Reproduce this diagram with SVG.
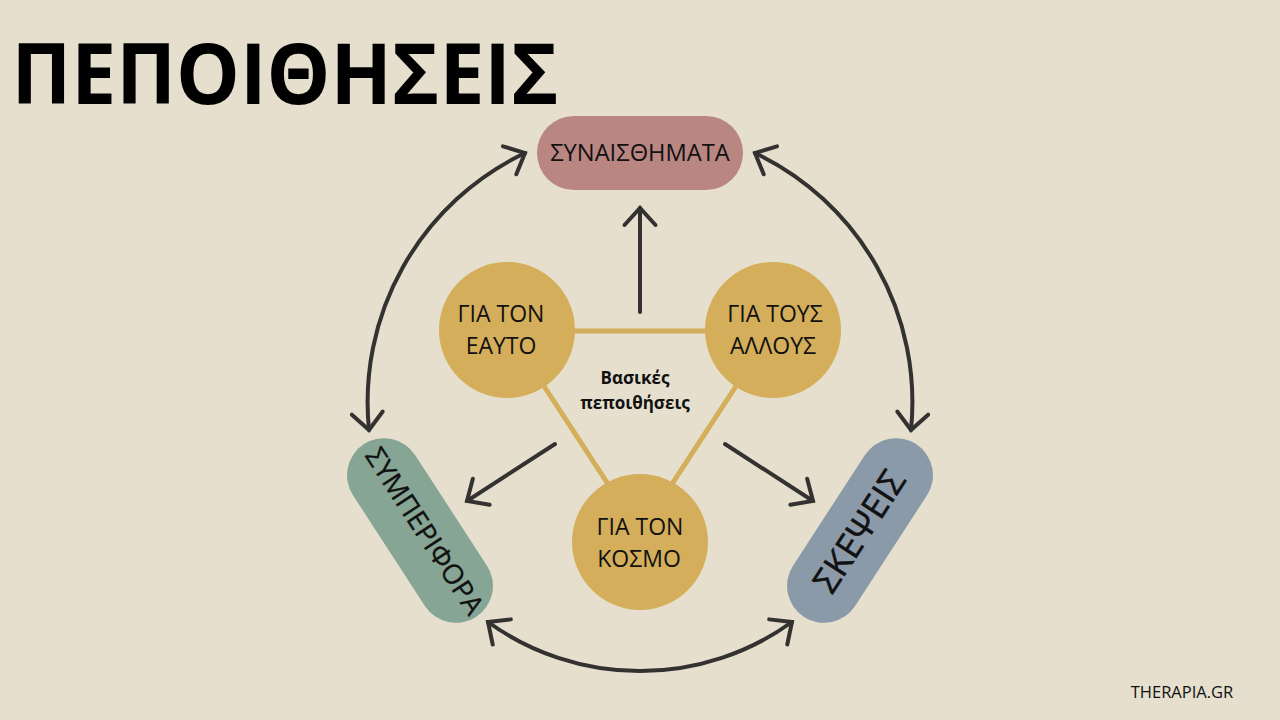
<svg xmlns="http://www.w3.org/2000/svg" width="1280" height="720" viewBox="0 0 1280 720">
<style>
text{font-family:"Open Sans","Noto Sans","Liberation Sans",sans-serif;fill:#111;text-anchor:middle}
.t{font-size:23px}
.c{fill:#d4ae5a}
.l{stroke:#d4ae5a;stroke-width:5;fill:none}
.a{stroke:#333230;stroke-width:4;fill:none;stroke-linecap:round}
</style>
<defs>
<marker id="h" markerUnits="userSpaceOnUse" markerWidth="44" markerHeight="44" refX="22" refY="22" orient="auto-start-reverse" viewBox="0 0 44 44">
<path d="M5 6.500L22 22L5 37.500" fill="none" stroke="#333230" stroke-width="4" stroke-linecap="round" stroke-linejoin="miter"/>
</marker>
</defs>
<rect width="1280" height="720" fill="#e6dfcd"/>
<text id="title" x="285" y="104" style="font-size:85px;font-weight:700;fill:#000" textLength="547" lengthAdjust="spacingAndGlyphs">ΠΕΠΟΙΘΗΣΕΙΣ</text>
<g id="triangle">
<path class="l" d="M508 331H772L640 533Z"/>
</g>
<g id="connectors">
<path class="a" d="M525 153A276 276 0 0 0 369 430" marker-start="url(#h)" marker-end="url(#h)"/>
<path class="a" d="M755 153A276 276 0 0 1 911 430" marker-start="url(#h)" marker-end="url(#h)"/>
<path class="a" d="M488 622A260 260 0 0 0 792 622" marker-start="url(#h)" marker-end="url(#h)"/>
<path class="a" d="M640 312V208" marker-end="url(#h)"/>
<path class="a" d="M555 444L467 501" marker-end="url(#h)"/>
<path class="a" d="M725 444L813 501" marker-end="url(#h)"/>
</g>
<g id="n-synaisthimata">
<rect x="537" y="116" width="206" height="74" rx="37" fill="#b98682"/>
<text class="t" x="640" y="161" style="font-size:23.700px">ΣΥΝΑΙΣΘΗΜΑΤΑ</text>
</g>
<g id="n-symperifora" transform="translate(420 530.500) rotate(57)">
<rect x="-103" y="-37" width="206" height="74" rx="37" fill="#86a595"/>
<text class="t" x="3" y="6" style="font-size:27.500px;stroke:#111;stroke-width:.3">ΣΥΜΠΕΡΙΦΟΡΑ</text>
</g>
<g id="n-skepseis" transform="translate(860 530.500) rotate(-57)">
<rect x="-103" y="-37" width="206" height="74" rx="37" fill="#8b9aa9"/>
<text class="t" x="-1" y="12" style="font-size:35px;stroke:#111;stroke-width:.5">ΣΚΕΨΕΙΣ</text>
</g>
<g id="n-eafto">
<circle class="c" cx="507" cy="330" r="68"/>
<text class="t" x="501" y="322">ΓΙΑ ΤΟΝ</text>
<text class="t" x="501" y="354">ΕΑΥΤΟ</text>
</g>
<g id="n-allous">
<circle class="c" cx="773" cy="330" r="68"/>
<text class="t" x="775" y="322">ΓΙΑ ΤΟΥΣ</text>
<text class="t" x="773" y="354">ΑΛΛΟΥΣ</text>
</g>
<g id="n-kosmo">
<circle class="c" cx="640" cy="542" r="68"/>
<text class="t" x="640" y="535">ΓΙΑ ΤΟΝ</text>
<text class="t" x="639" y="567">ΚΟΣΜΟ</text>
</g>
<g id="center">
<text x="635" y="384" style="font-size:17px;font-weight:700">Βασικές</text>
<text x="635" y="409" style="font-size:17px;font-weight:700">πεποιθήσεις</text>
</g>
<text id="credit" x="1182" y="698" style="font-size:16.500px">THERAPIA.GR</text>
</svg>
